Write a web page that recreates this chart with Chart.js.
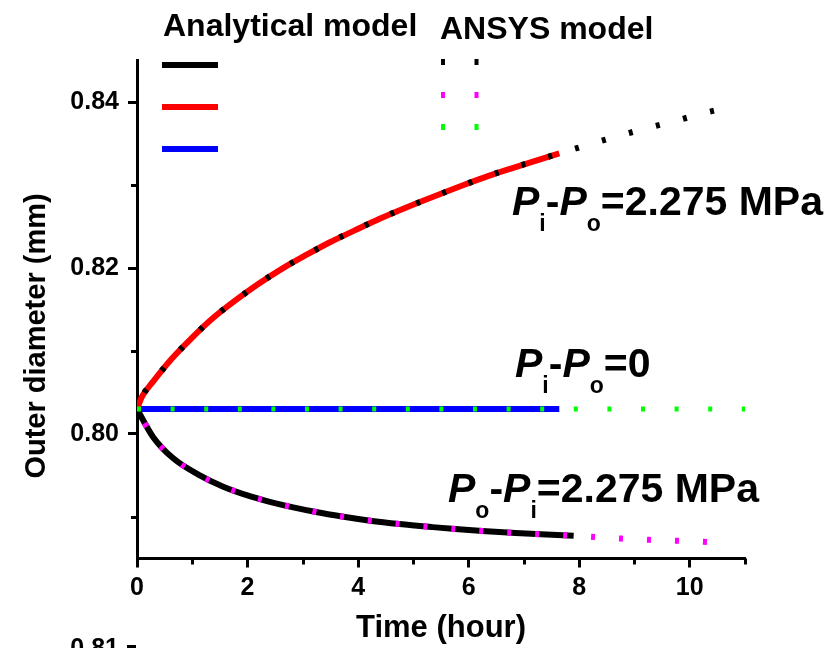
<!DOCTYPE html>
<html><head><meta charset="utf-8">
<script src="https://cdn.jsdelivr.net/npm/chart.js@4.4.0/dist/chart.umd.min.js"></script>
<style>html,body{margin:0;padding:0;background:#fff;}canvas{display:block;}</style>
</head><body>
<canvas id="c" width="838" height="648"></canvas>
<script>
const FONT = '"Liberation Sans", Arial, Helvetica, sans-serif';

// ---- Data (time in hours, outer diameter in mm) ----
// Pi-Po = 2.275 MPa (expansion) — analytical model
const tExpandAnalytical = [0, 0.09, 0.29, 0.62, 0.98, 1.38, 1.78, 2.2, 2.62, 3.07, 3.49, 3.93, 4.38, 4.84, 5.29, 5.91, 6.36, 6.82, 7.25, 7.64];
const dExpandAnalytical = [0.8030, 0.8045, 0.8063, 0.8090, 0.8115, 0.8140, 0.8161, 0.8181, 0.8199, 0.8216, 0.8231, 0.8245, 0.8259, 0.8272, 0.8284, 0.8300, 0.8311, 0.8321, 0.8330, 0.8338];
// Pi-Po = 2.275 MPa — ANSYS model
const tExpandAnsys = [0, 0.09, 0.29, 0.62, 0.98, 1.38, 1.78, 2.2, 2.62, 3.07, 3.49, 3.93, 4.38, 4.84, 5.29, 5.91, 6.36, 6.82, 7.25, 7.69, 8.24, 8.76, 9.2, 9.73, 10.22, 10.73];
const dExpandAnsys = [0.8030, 0.8045, 0.8063, 0.8090, 0.8115, 0.8140, 0.8161, 0.8181, 0.8199, 0.8216, 0.8231, 0.8245, 0.8259, 0.8272, 0.8284, 0.8300, 0.8311, 0.8321, 0.8330, 0.8339, 0.8350, 0.8360, 0.8368, 0.8377, 0.8386, 0.8394];

// Po-Pi = 2.275 MPa (compression) — analytical model
const tCompressAnalytical = [0, 0.29, 0.65, 1.11, 1.56, 2.07, 2.51, 3.24, 3.71, 4.22, 4.75, 5.35, 5.76, 6.25, 6.85, 7.31, 7.9];
const dCompressAnalytical = [0.8030, 0.79965, 0.7971, 0.7951, 0.79365, 0.79245, 0.79165, 0.7906, 0.79005, 0.78955, 0.78915, 0.78878, 0.78855, 0.78832, 0.78808, 0.78792, 0.78775];
// Po-Pi = 2.275 MPa — ANSYS model
const tCompressAnsys = [0, 0.29, 0.65, 1.11, 1.56, 2.07, 2.51, 3.24, 3.71, 4.22, 4.75, 5.35, 5.76, 6.25, 6.85, 7.31, 7.82, 8.42, 8.76, 9.38, 9.98, 10.6];
const dCompressAnsys = [0.8030, 0.79965, 0.7971, 0.7951, 0.79365, 0.79245, 0.79165, 0.7906, 0.79005, 0.78955, 0.78915, 0.78878, 0.78855, 0.78832, 0.78808, 0.78792, 0.78778, 0.78752, 0.7874, 0.78722, 0.78708, 0.78692];

// Pi-Po = 0
const tZeroAnalytical = [0, 7.64];
const dZeroAnalytical = [0.803, 0.803];
const tZeroAnsys = [0, 11];
const dZeroAnsys = [0.803, 0.803];

// ---- Axes ----
const xTickValues = [0, 2, 4, 6, 8, 10];
const xTickLabels = ['0', '2', '4', '6', '8', '10'];
const xMinorTicks = [1, 3, 5, 7, 9, 11];
const yTickValues = [0.80, 0.82, 0.84];
const yTickLabels = ['0.80', '0.82', '0.84'];
const yMinorTicks = [0.79, 0.81, 0.83];

function pts(xs, ys) { return xs.map((x, i) => ({ x: x, y: ys[i] })); }

const decorPlugin = {
  id: 'decor',
  afterDraw(chart) {
    const ctx = chart.ctx;
    const area = chart.chartArea;
    const xs = chart.scales.x, ys = chart.scales.y;
    ctx.save();
    // minor ticks
    ctx.strokeStyle = '#000';
    ctx.lineWidth = 3;
    ctx.lineCap = 'butt';
    xMinorTicks.forEach(v => {
      const px = Math.round(xs.getPixelForValue(v)) + 0.5;
      ctx.beginPath(); ctx.moveTo(px, area.bottom); ctx.lineTo(px, area.bottom + 6); ctx.stroke();
    });
    yMinorTicks.forEach(v => {
      const py = Math.round(ys.getPixelForValue(v)) + 0.5;
      ctx.beginPath(); ctx.moveTo(area.left, py); ctx.lineTo(area.left - 6, py); ctx.stroke();
    });

    // y-axis title
    ctx.fillStyle = '#000';
    ctx.save();
    ctx.translate(45, 336);
    ctx.rotate(-Math.PI / 2);
    ctx.font = 'bold 29px ' + FONT;
    ctx.textAlign = 'center';
    ctx.textBaseline = 'alphabetic';
    ctx.fillText('Outer diameter (mm)', 0, 0);
    ctx.restore();

    // legend
    ctx.font = 'bold 32px ' + FONT;
    ctx.textAlign = 'left';
    ctx.textBaseline = 'alphabetic';
    ctx.fillText('Analytical model', 163, 36);
    ctx.fillText('ANSYS model', 440, 39);
    const legA = [['#000000', 65], ['#ff0000', 107], ['#0000ff', 149]];
    legA.forEach(([c, y]) => {
      ctx.strokeStyle = c; ctx.lineWidth = 6; ctx.setLineDash([]);
      ctx.beginPath(); ctx.moveTo(162, y); ctx.lineTo(218, y); ctx.stroke();
    });
    const legB = [['#000000', 62], ['#ff00ff', 95], ['#00ff00', 127]];
    legB.forEach(([c, y]) => {
      ctx.strokeStyle = c; ctx.lineWidth = 6; ctx.setLineDash([4, 29.5]);
      ctx.beginPath(); ctx.moveTo(441, y); ctx.lineTo(482, y); ctx.stroke();
    });
    ctx.setLineDash([]);

    // annotations
    function rich(x, y, parts) {
      ctx.fillStyle = '#000';
      ctx.textAlign = 'left';
      ctx.textBaseline = 'alphabetic';
      parts.forEach(p => {
        const size = p.sub ? 23 : 41;
        ctx.font = (p.it ? 'italic ' : '') + 'bold ' + size + 'px ' + FONT;
        ctx.fillText(p.t, x, y + (p.sub ? 16 : 0));
        x += ctx.measureText(p.t).width;
      });
    }
    rich(512, 215, [{t: 'P', it: 1}, {t: 'i', sub: 1}, {t: '-'}, {t: 'P', it: 1}, {t: 'o', sub: 1}, {t: '=2.275 MPa'}]);
    rich(515, 377, [{t: 'P', it: 1}, {t: 'i', sub: 1}, {t: '-'}, {t: 'P', it: 1}, {t: 'o', sub: 1}, {t: '=0'}]);
    rich(448, 502, [{t: 'P', it: 1}, {t: 'o', sub: 1}, {t: '-'}, {t: 'P', it: 1}, {t: 'i', sub: 1}, {t: '=2.275 MPa'}]);

    // fragment of the next panel at the bottom edge
    ctx.font = 'bold 25px ' + FONT;
    ctx.textAlign = 'right';
    ctx.textBaseline = 'alphabetic';
    ctx.fillText('0.81', 119, 656);
    ctx.strokeStyle = '#000'; ctx.lineWidth = 3;
    ctx.beginPath(); ctx.moveTo(127, 646.5); ctx.lineTo(136, 646.5); ctx.stroke();
    ctx.restore();
  }
};

const tickFont = { family: FONT, size: 25, weight: 'bold' };

new Chart(document.getElementById('c'), {
  type: 'line',
  data: {
    datasets: [
      { label: 'ANSYS Pi-Po=2.275', data: pts(tExpandAnsys, dExpandAnsys), borderColor: '#000000', borderWidth: 6, borderDash: [4, 24], borderDashOffset: 10, pointRadius: 0, cubicInterpolationMode: 'monotone', order: 0 },
      { label: 'ANSYS Po-Pi=2.275', data: pts(tCompressAnsys, dCompressAnsys), borderColor: '#ff00ff', borderWidth: 6, borderDash: [4, 24], borderDashOffset: 12, pointRadius: 0, cubicInterpolationMode: 'monotone', order: 0 },
      { label: 'ANSYS Pi-Po=0', data: pts(tZeroAnsys, dZeroAnsys), borderColor: '#00ff00', borderWidth: 5, borderDash: [4, 29.6], pointRadius: 0, order: 0 },
      { label: 'Analytical Po-Pi=2.275', data: pts(tCompressAnalytical, dCompressAnalytical), borderColor: '#000000', borderWidth: 6, pointRadius: 0, cubicInterpolationMode: 'monotone', order: 1 },
      { label: 'Analytical Pi-Po=2.275', data: pts(tExpandAnalytical, dExpandAnalytical), borderColor: '#ff0000', borderWidth: 6, pointRadius: 0, cubicInterpolationMode: 'monotone', order: 1 },
      { label: 'Analytical Pi-Po=0', data: pts(tZeroAnalytical, dZeroAnalytical), borderColor: '#0000ff', borderWidth: 6, pointRadius: 0, order: 1 }
    ]
  },
  options: {
    responsive: false,
    animation: false,
    devicePixelRatio: 1,
    layout: { padding: { left: 0, top: 60.5, right: 93, bottom: 0 } },
    plugins: { legend: { display: false }, tooltip: { enabled: false } },
    scales: {
      x: {
        type: 'linear', min: 0, max: 11,
        afterBuildTicks: s => { s.ticks = xTickValues.map(v => ({ value: v })); },
        afterFit: s => { s.height = 89.5; },
        ticks: { font: tickFont, color: '#000', padding: 6, autoSkip: false, maxRotation: 0,
                 callback: (v, i) => xTickLabels[i] },
        grid: { drawOnChartArea: false, drawTicks: true, tickLength: 9, tickWidth: 3, tickColor: '#000' },
        border: { display: true, width: 3, color: '#000' },
        title: { display: true, text: 'Time (hour)', color: '#000', font: { family: FONT, size: 31, weight: 'bold' }, padding: { top: 0, bottom: 1 } }
      },
      y: {
        type: 'linear', min: 0.785, max: 0.845,
        afterBuildTicks: s => { s.ticks = yTickValues.map(v => ({ value: v })); },
        afterFit: s => { s.width = 137; },
        ticks: { font: tickFont, color: '#000', padding: 9, autoSkip: false,
                 callback: (v, i) => yTickLabels[i] },
        grid: { drawOnChartArea: false, drawTicks: true, tickLength: 9, tickWidth: 3, tickColor: '#000' },
        border: { display: true, width: 3, color: '#000' }
      }
    }
  },
  plugins: [decorPlugin]
});
</script>
</body></html>
